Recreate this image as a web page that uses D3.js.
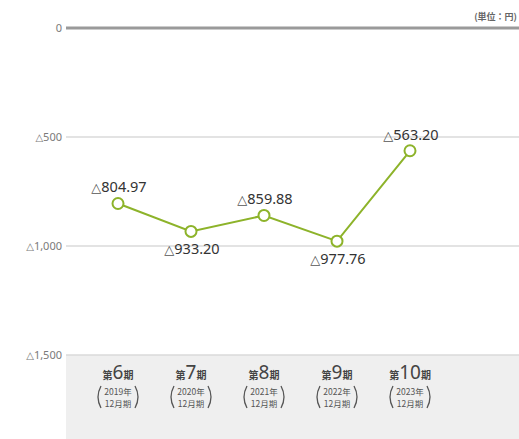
<!DOCTYPE html>
<html><head><meta charset="utf-8">
<script src="https://cdn.jsdelivr.net/npm/d3@7/dist/d3.min.js"></script>
<style>
html,body{margin:0;padding:0;background:#fff;}
svg{display:block;font-family:"Noto Sans","Noto Sans CJK JP",sans-serif;}
</style></head>
<body><svg id="c" width="519" height="439"></svg>
<script>
const periods = ["6","7","8","9","10"];
const years = ["2019年","2020年","2021年","2022年","2023年"];
const values = [-804.97, -933.20, -859.88, -977.76, -563.20];
const labelPos = ["above","below","above","below","above"];
const yTicks = [0, -500, -1000, -1500];
const tickLabels = ["0","500","1,000","1,500"];
const unitLabel = "(単位：円)";

const svg = d3.select("#c");
const y = d3.scaleLinear().domain([0, -1500]).range([28, 355]);
const x = d3.scalePoint().domain(periods).range([118, 410]);
const left = 66, right = 519;
const tri = "△";

// bottom category band
svg.append("rect").attr("x", left).attr("y", y(-1500)).attr("width", right-left).attr("height", 439-y(-1500)).attr("fill","#efefef");

// gridlines + tick labels
yTicks.forEach((t,i)=>{
  svg.append("line").attr("x1",left).attr("x2",right).attr("y1",y(t)).attr("y2",y(t))
    .attr("stroke", t===0 ? "#9a9a9a" : "#dadada").attr("stroke-width", t===0 ? 3 : 1.3);
  const tx = svg.append("text").attr("x", 62).attr("y", y(t)).attr("dy","0.35em").attr("text-anchor","end")
    .attr("font-size", 11).attr("fill","#7a7a7a");
  if (t !== 0) tx.append("tspan").attr("font-size",10).attr("font-family","DejaVu Sans").text(tri);
  tx.append("tspan").text(tickLabels[i]);
});

svg.append("text").attr("x",517).attr("y",20).attr("text-anchor","end").attr("font-size",9)
  .attr("font-family","Noto Sans CJK JP").attr("font-weight","bold").attr("fill","#666").text(unitLabel);

// line
const line = d3.line().x((d,i)=>x(periods[i])).y(d=>y(d));
svg.append("path").datum(values).attr("d",line).attr("fill","none").attr("stroke","#8db32a").attr("stroke-width",2);
svg.selectAll("circle.pt").data(values).enter().append("circle").attr("class","pt")
  .attr("cx",(d,i)=>x(periods[i])).attr("cy",d=>y(d)).attr("r",5.5)
  .attr("fill","#fff").attr("stroke","#8db32a").attr("stroke-width",2);

// value labels
const vl = svg.selectAll("text.val").data(values).enter().append("text").attr("class","val")
  .attr("x",(d,i)=>x(periods[i])+1)
  .attr("y",(d,i)=>labelPos[i]==="above" ? y(d)-11 : y(d)+23)
  .attr("text-anchor","middle").attr("font-size",14.5).attr("fill","#333");
vl.append("tspan").attr("font-size",13).attr("font-family","DejaVu Sans").attr("fill","#555").text(tri);
vl.append("tspan").text(d=>d3.format(".2f")(Math.abs(d)));

// category labels
periods.forEach((p,i)=>{
  const cx = x(p);
  const t = svg.append("text").attr("x",cx).attr("y",379).attr("text-anchor","middle").attr("fill","#444");
  t.append("tspan").attr("font-size",10).attr("font-family","Noto Sans CJK JP").attr("font-weight","bold").text("第");
  t.append("tspan").attr("font-size",19).text(p);
  t.append("tspan").attr("font-size",10).attr("font-family","Noto Sans CJK JP").attr("font-weight","bold").text("期");
  svg.append("text").attr("x",cx).attr("y",395).attr("text-anchor","middle").attr("font-size",8.5).attr("fill","#555")
    .attr("font-family","Noto Sans CJK JP").text(years[i]);
  svg.append("text").attr("x",cx).attr("y",407).attr("text-anchor","middle").attr("font-size",8.5).attr("fill","#555")
    .attr("font-family","Noto Sans CJK JP").text("12月期");
  const bl = d3.path(); bl.moveTo(cx-17,386); bl.quadraticCurveTo(cx-23,397,cx-17,408);
  const br = d3.path(); br.moveTo(cx+17,386); br.quadraticCurveTo(cx+23,397,cx+17,408);
  svg.append("path").attr("d",bl.toString()).attr("fill","none").attr("stroke","#555").attr("stroke-width",1.3);
  svg.append("path").attr("d",br.toString()).attr("fill","none").attr("stroke","#555").attr("stroke-width",1.3);
});
</script></body></html>
